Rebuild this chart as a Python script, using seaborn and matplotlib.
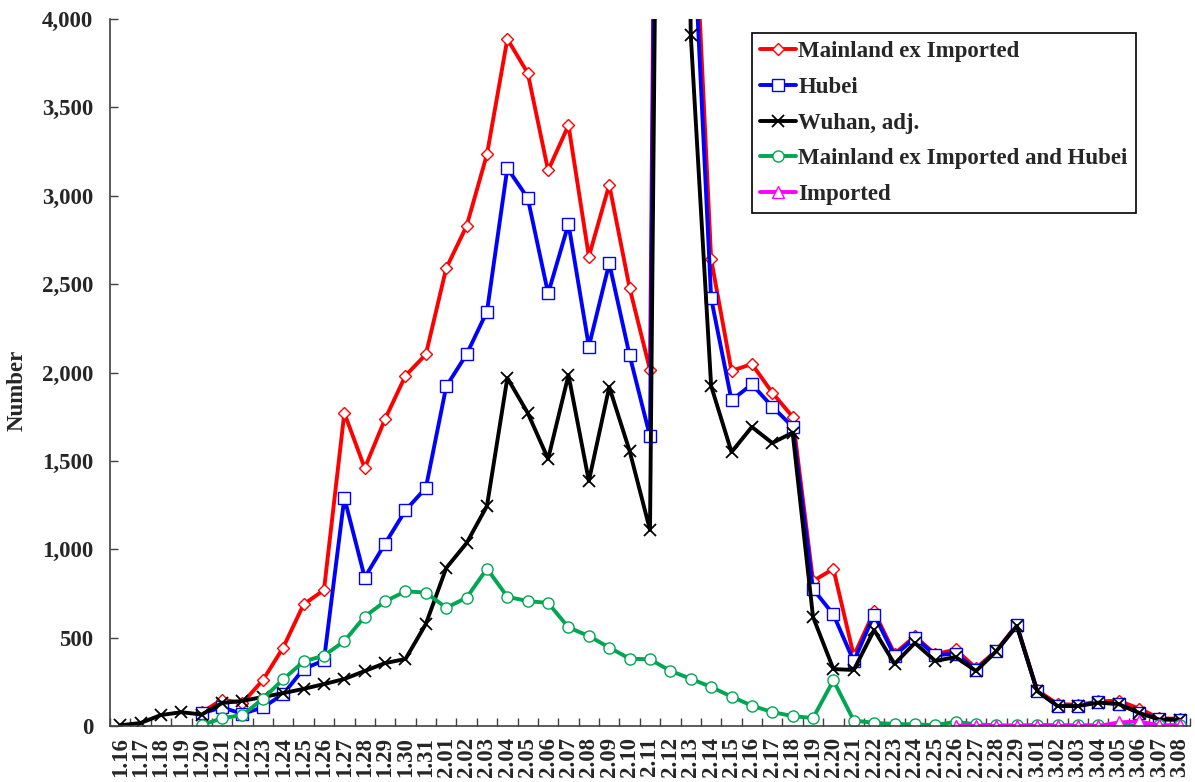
import numpy as np
import pandas as pd
import matplotlib
matplotlib.use("Agg")
import matplotlib.pyplot as plt
import seaborn as sns
from matplotlib.ticker import FuncFormatter, FixedLocator

nan = np.nan

dates = [f"1.{d}" for d in range(16, 32)] + [f"2.{d:02d}" for d in range(1, 30)] + [f"3.{d:02d}" for d in range(1, 9)]

mainland_ex_imported = [nan, nan, nan, nan, 77, 149, 131, 259, 444, 688, 769, 1771, 1459, 1737, 1982, 2102,
                        2590, 2829, 3235, 3887, 3694, 3143, 3399, 2656, 3062, 2478, 2015, 15152, 5090, 2641, 2009,
                        2048, 1886, 1749, 820, 889, 397, 648, 409, 508, 406, 433, 327, 427, 573,
                        202, 125, 119, 139, 143, 99, 44, 40]
hubei = [nan, nan, nan, nan, 72, 105, 69, 105, 180, 323, 371, 1291, 840, 1032, 1220, 1347,
         1921, 2103, 2345, 3156, 2987, 2447, 2841, 2147, 2618, 2097, 1638, 14840, 4823, 2420, 1843,
         1933, 1807, 1693, 775, 631, 366, 630, 398, 499, 401, 409, 318, 423, 570,
         196, 114, 115, 134, 126, 74, 41, 36]
wuhan_adj = [4, 17, 62, 78, 65, 130, 142, 164, 186, 210, 237, 266, 311, 356, 379, 577,
             894, 1035, 1245, 1969, 1771, 1511, 1986, 1386, 1918, 1556, 1109, 13436, 3910, 1924, 1550,
             1692, 1601, 1660, 617, 322, 317, 543, 351, 470, 368, 390, 311, 424, 566,
             198, 113, 113, 132, 124, 74, 36, 36]
ex_imported_hubei = [nan, nan, nan, nan, 5, 44, 62, 154, 264, 365, 398, 480, 619, 705, 762, 755,
                     669, 726, 890, 731, 707, 696, 558, 509, 444, 381, 377, 312, 267, 221, 166,
                     115, 79, 56, 45, 258, 31, 18, 11, 9, 5, 24, 9, 4, 3,
                     6, 5, 4, 5, 1, 1, 3, 4]
imported = [nan] * 41 + [2, 0, 0, 0, 0, 0, 0, 0, 20, 26, 3, 3]

series_names = ["Mainland ex Imported", "Hubei", "Wuhan, adj.", "Mainland ex Imported and Hubei", "Imported"]
yticks = [0, 500, 1000, 1500, 2000, 2500, 3000, 3500, 4000]

sns.set_style("ticks")
plt.rcParams["font.family"] = ["Liberation Serif", "DejaVu Serif"]
plt.rcParams["font.weight"] = "bold"

fig = plt.figure(figsize=(11.95, 7.82), dpi=100)
ax = fig.add_axes([110 / 1195, 1 - 726 / 782, 1080 / 1195, 707 / 782])

xpos = np.arange(len(dates))
styles = [
    (mainland_ex_imported, "#FF0000", "D", 6, 1.0),
    (hubei, "#0000FF", "s", 8, 1.0),
    (wuhan_adj, "#000000", "x", 8, 1.3),
    (ex_imported_hubei, "#00A651", "o", 8, 1.0),
    (imported, "#FF00FF", "^", 8, 1.0),
]
for name, (vals, col, mk, ms, mew) in zip(series_names, styles):
    df = pd.DataFrame({"x": xpos, "y": vals})
    sns.lineplot(data=df, x="x", y="y", ax=ax, color=col, linewidth=2.8,
                 marker=mk, markersize=ms, markerfacecolor="white" if mk != "x" else col,
                 markeredgecolor=col, markeredgewidth=mew, label=name)

ax.set_xlim(-0.5, len(dates) - 0.5)
ax.set_ylim(0, 4000)
ax.set_xticks(xpos)
ax.set_xticklabels(dates, rotation=90, fontsize=16.5, fontweight="bold")
ax.xaxis.set_minor_locator(FixedLocator(np.arange(-0.5, len(dates), 1.0)))
ax.tick_params(axis="x", which="major", length=0, pad=8)
ax.tick_params(axis="x", which="minor", direction="in", length=6, width=1, color="#404040")
ax.set_yticks(yticks)
ax.yaxis.set_major_formatter(FuncFormatter(lambda v, p: f"{int(v):,}"))
ax.tick_params(axis="y", direction="in", length=6, width=1, color="#404040", labelsize=16.5, pad=12)
for lab in ax.get_yticklabels():
    lab.set_fontweight("bold")
ax.set_xlabel("")
ax.set_ylabel("Number", fontsize=16.5, fontweight="bold")
ax.yaxis.set_label_coords(-0.076, 0.475)
sns.despine(ax=ax)
for s in ["left", "bottom"]:
    ax.spines[s].set_color("#404040")
    ax.spines[s].set_linewidth(1.2)

leg = ax.legend(loc="upper left", bbox_to_anchor=(0.594, 0.98), borderaxespad=0, frameon=True, fancybox=False,
                edgecolor="black", framealpha=1, prop={"family": "Liberation Serif", "weight": "bold", "size": 16.5},
                handlelength=1.6, handletextpad=0.1, labelspacing=0.64, borderpad=0.35)
leg.get_frame().set_linewidth(1.2)

fig.savefig("out.png", dpi=100)
